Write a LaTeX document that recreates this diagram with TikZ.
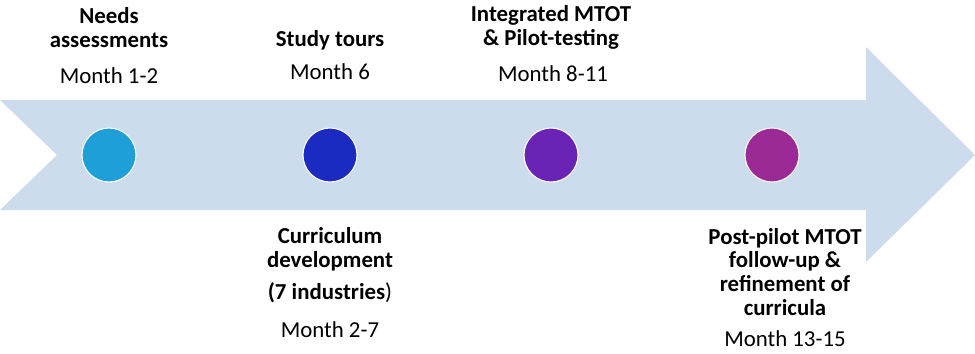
\documentclass[tikz,border=0pt]{standalone}
\usepackage{fontspec}
\setmainfont{Carlito}
\usepackage{xcolor}
\usetikzlibrary{positioning}

\definecolor{band}{HTML}{CCDCEC}
\definecolor{stepA}{HTML}{1E9FD8}
\definecolor{stepB}{HTML}{1B2BC2}
\definecolor{stepC}{HTML}{6A23B4}
\definecolor{stepD}{HTML}{9C2A96}

\begin{document}
\begin{tikzpicture}[x=0.02cm, y=-0.02cm,
        dot/.style={circle, draw=white, line width=0.6pt, minimum size=1.08cm, inner sep=0pt},
        title/.style={align=center, inner sep=0pt, font=\fontsize{13}{13.6}\selectfont\bfseries},
        month/.style={inner sep=0pt, font=\fontsize{13}{13.6}\selectfont}
    ]
        \useasboundingbox (0,0) rectangle (975,353);
        % timeline arrow
        \fill[band] (0,100) -- (866,100) -- (866,47) -- (975,155) -- (866,262)
            -- (866,210) -- (0,210) -- (57,155) -- cycle;
        % milestones
        \node[dot, fill=stepA] (D1) at (109,155) {};
        \node[dot, fill=stepB] (D2) at (330,155) {};
        \node[dot, fill=stepC] (D3) at (551,155) {};
        \node[dot, fill=stepD] (D4) at (772,155) {};
        % labels above
        \node[title] (T1) at (109,28) {Needs\\assessments};
        \node[month] (M1) at (109,76) {Month 1-2};
        \node[title] (T2) at (330,40) {Study tours};
        \node[month] (M2) at (330,72) {Month 6};
        \node[title] (T3) at (551,27) {Integrated MTOT\\\& Pilot-testing};
        \node[month] (M3) at (553,74) {Month 8-11};
        % labels below
        \node[title] (T4) at (330,249) {Curriculum\\development};
        \node[title] (T5) at (330,293) {(7 industries\mdseries)};
        \node[month] (M4) at (330,330) {Month 2-7};
        \node[title] (T6) at (785,272) {Post-pilot MTOT\\follow-up \&\\refinement of\\curricula};
        \node[month] (M5) at (785,339) {Month 13-15};
    \end{tikzpicture}
\end{document}
